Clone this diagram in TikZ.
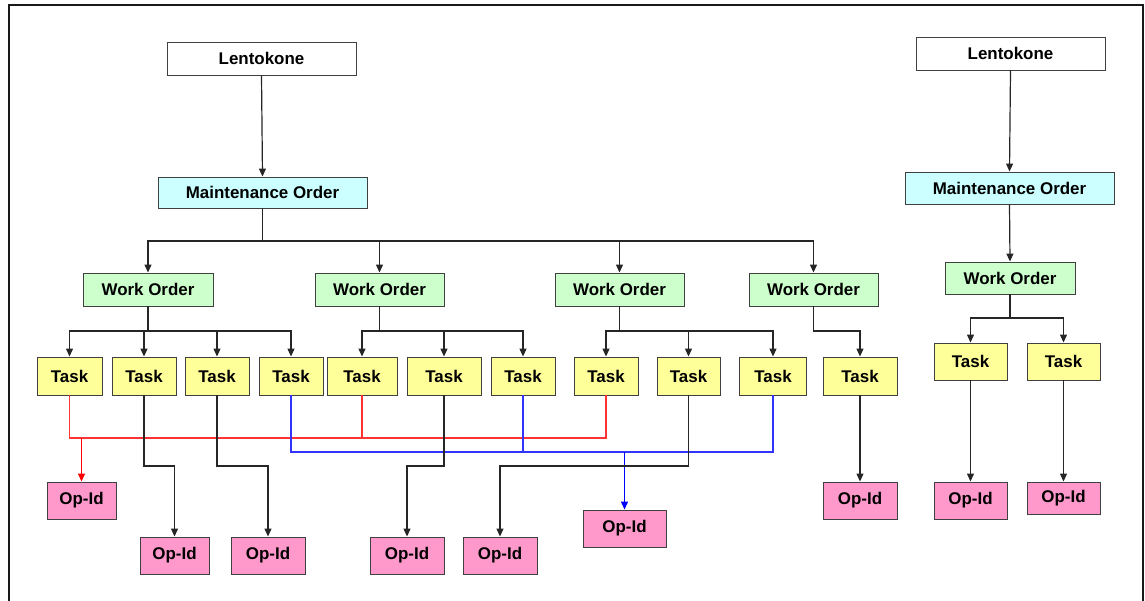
\documentclass[tikz,border=0pt]{standalone}
\usepackage{fontspec}
\setmainfont{Liberation Sans}
\usetikzlibrary{arrows.meta}
\definecolor{mocyan}{HTML}{CCFFFF}
\definecolor{wogreen}{HTML}{CCFFCC}
\definecolor{taskyellow}{HTML}{FFFF99}
\definecolor{oppink}{HTML}{FF99CC}
\definecolor{boxline}{HTML}{404040}
\definecolor{linkred}{HTML}{FF3333}
\definecolor{linkblue}{HTML}{3333FF}
\tikzset{
  box/.style={draw=boxline, line width=0.9bp, inner sep=0pt, align=center,
    font=\bfseries\fontsize{17}{19}\selectfont},
  planebox/.style={box, fill=white},
  mobox/.style={box, fill=mocyan},
  wobox/.style={box, fill=wogreen},
  taskbox/.style={box, fill=taskyellow},
  opbox/.style={box, fill=oppink},
  tip/.style={-{Triangle[width=7bp,length=8bp]}},
  link/.style={draw=black!85, line width=1.2bp},
  arr/.style={link, tip},
  redlink/.style={draw=linkred, line width=1.2bp},
  bluelink/.style={draw=linkblue, line width=1.2bp},
}
\begin{document}
\begin{tikzpicture}[x=1bp,y=-1bp]
\useasboundingbox (0,0) rectangle (1145,601);
\clip (0,0) rectangle (1145,601);
% outer frame (open at the bottom of the page)
\draw[line width=2bp, black!90] (9,640) -- (9,5) -- (1143,5) -- (1143,640);

% ---------- left tree ----------
\node[planebox, minimum width=189bp, minimum height=33bp] (L1) at (261.5,58.5) {Lentokone};
\node[mobox, minimum width=209bp, minimum height=31bp] (M1) at (262.5,192.5) {Maintenance Order};

\node[wobox, minimum width=130bp, minimum height=33bp] (W1) at (148,289.5) {Work Order};
\node[wobox, minimum width=129bp, minimum height=33bp] (W2) at (379.5,289.5) {Work Order};
\node[wobox, minimum width=129bp, minimum height=33bp] (W3) at (619.5,289.5) {Work Order};
\node[wobox, minimum width=129bp, minimum height=33bp] (W4) at (813.5,289.5) {Work Order};

\node[taskbox, minimum width=65bp, minimum height=38bp] (T1) at (69.5,376) {Task};
\node[taskbox, minimum width=64bp, minimum height=38bp] (T2) at (144,376) {Task};
\node[taskbox, minimum width=64bp, minimum height=38bp] (T3) at (217,376) {Task};
\node[taskbox, minimum width=64bp, minimum height=38bp] (T4) at (291,376) {Task};
\node[taskbox, minimum width=70bp, minimum height=38bp] (T5) at (362,376) {Task};
\node[taskbox, minimum width=74bp, minimum height=38bp] (T6) at (444,376) {Task};
\node[taskbox, minimum width=64bp, minimum height=38bp] (T7) at (523,376) {Task};
\node[taskbox, minimum width=64bp, minimum height=38bp] (T8) at (606,376) {Task};
\node[taskbox, minimum width=63bp, minimum height=38bp] (T9) at (688.5,376) {Task};
\node[taskbox, minimum width=67bp, minimum height=38bp] (T10) at (773,376) {Task};
\node[taskbox, minimum width=74bp, minimum height=38bp] (T11) at (860,376) {Task};

\node[opbox, minimum width=69bp, minimum height=37bp] (O1) at (81.5,500.5) {Op-Id};
\node[opbox, minimum width=69bp, minimum height=37bp] (O2) at (174.5,555.5) {Op-Id};
\node[opbox, minimum width=74bp, minimum height=37bp] (O3) at (268,555.5) {Op-Id};
\node[opbox, minimum width=74bp, minimum height=37bp] (O4) at (407,555.5) {Op-Id};
\node[opbox, minimum width=74bp, minimum height=37bp] (O5) at (500,555.5) {Op-Id};
\node[opbox, minimum width=83bp, minimum height=37bp] (O6) at (624.5,528.5) {Op-Id};
\node[opbox, minimum width=74bp, minimum height=37bp] (O7) at (860,500.5) {Op-Id};

% bus levels
\coordinate (busM) at (0,241);
\coordinate (busW) at (0,331);
\coordinate (busR) at (0,438);
\coordinate (busB) at (0,452);
\coordinate (busK) at (0,466);

\draw[arr] (L1.south) -- (M1.north);
\draw[link] (M1.south) -- (M1.south |- busM);
\foreach \w in {W1,W2,W3,W4}
  \draw[arr] (M1.south |- busM) -| (\w.north);

\draw[link] (W1.south) -- (W1.south |- busW);
\foreach \t in {T1,T2,T3,T4}
  \draw[arr] (W1.south |- busW) -| (\t.north);
\draw[link] (W2.south) -- (W2.south |- busW);
\foreach \t in {T5,T6,T7}
  \draw[arr] (W2.south |- busW) -| (\t.north);
\draw[link] (W3.south) -- (W3.south |- busW);
\foreach \t in {T8,T9,T10}
  \draw[arr] (W3.south |- busW) -| (\t.north);
\draw[arr] (W4.south) |- (T11.north |- busW) -- (T11.north);

% red group: T1, T5, T8 -> O1
\draw[redlink] (T1.south) |- (T8.south |- busR) -- (T8.south);
\draw[redlink] (T5.south) -- (T5.south |- busR);
\draw[redlink, draw=red, tip] (O1.north |- busR) -- (O1.north);

% blue group: T4, T7, T10 -> O6
\draw[bluelink] (T4.south) |- (T10.south |- busB) -- (T10.south);
\draw[bluelink] (T7.south) -- (T7.south |- busB);
\draw[bluelink, draw=blue, tip] (O6.north |- busB) -- (O6.north);

% single links
\draw[arr] (T2.south) |- (O2.north |- busK) -- (O2.north);
\draw[arr] (T3.south) |- (O3.north |- busK) -- (O3.north);
\draw[arr] (T6.south) |- (O4.north |- busK) -- (O4.north);
\draw[arr] (T9.south) |- (O5.north |- busK) -- (O5.north);
\draw[arr] (T11.south) -- (O7.north);

% ---------- right tree ----------
\node[planebox, minimum width=189bp, minimum height=33bp] (L2) at (1010.5,53.5) {Lentokone};
\node[mobox, minimum width=209bp, minimum height=32bp] (M2) at (1009.5,188) {Maintenance Order};
\node[wobox, minimum width=130bp, minimum height=32bp] (W5) at (1010,278) {Work Order};
\node[taskbox, minimum width=73bp, minimum height=37bp] (T12) at (970.5,361.5) {Task};
\node[taskbox, minimum width=73bp, minimum height=37bp] (T13) at (1063.5,361.5) {Task};
\node[opbox, minimum width=73bp, minimum height=37bp] (O8) at (970.5,500.5) {Op-Id};
\node[opbox, minimum width=73bp, minimum height=32bp] (O9) at (1063.5,498) {Op-Id};

\coordinate (busW2) at (0,318);
\draw[arr] (L2.south) -- (M2.north);
\draw[arr] (M2.south) -- (W5.north);
\draw[link] (W5.south) -- (W5.south |- busW2);
\foreach \t in {T12,T13}
  \draw[arr] (W5.south |- busW2) -| (\t.north);
\draw[arr] (T12.south) -- (O8.north);
\draw[arr] (T13.south) -- (O9.north);
\end{tikzpicture}
\end{document}
